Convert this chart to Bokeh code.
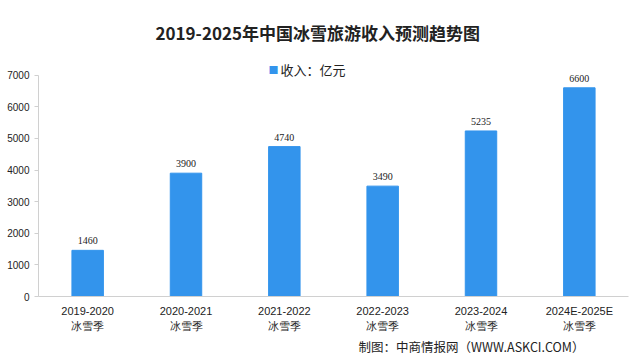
from bokeh.plotting import figure
from bokeh.models import ColumnDataSource, FactorRange, Label, Range1d, FixedTicker, Title
from bokeh.embed import file_html
from bokeh.resources import INLINE

seasons = ["2019-2020\n冰雪季", "2020-2021\n冰雪季", "2021-2022\n冰雪季",
           "2022-2023\n冰雪季", "2023-2024\n冰雪季", "2024E-2025E\n冰雪季"]
revenue = [1460, 3900, 4740, 3490, 5235, 6600]
value_labels = ["1460", "3900", "4740", "3490", "5235", "6600"]
y_ticks = [0, 1000, 2000, 3000, 4000, 5000, 6000, 7000]

FONT = "Noto Sans CJK SC"
NUMF = "Liberation Sans"
BAR = "#3394ec"
TXT = "#222222"

src = ColumnDataSource(dict(x=seasons, y=revenue, lab=value_labels))

p = figure(width=632, height=355, output_backend="svg", toolbar_location=None,
           x_range=FactorRange(*seasons, range_padding=0),
           y_range=Range1d(0, 7400),
           min_border_left=38, min_border_right=4, min_border_top=61, min_border_bottom=55)
p.outline_line_color = None
p.background_fill_color = "white"
p.border_fill_color = "white"

p.title.text = "2019-2025年中国冰雪旅游收入预测趋势图"
p.title.align = "left"
p.title.vertical_align = "bottom"
p.title.offset = 117
p.title.text_font = FONT
p.title.text_font_size = "17px"
p.title.text_font_style = "bold"
p.title.text_color = TXT
p.title.standoff = 35

p.vbar(x="x", top="y", width=0.32, source=src, color=BAR)
p.text(x="x", y="y", text="lab", source=src, text_align="center", text_baseline="bottom",
       y_offset=-6, text_font_size="10px", text_color=TXT, text_font=NUMF)

p.xgrid.visible = False
p.ygrid.visible = False

p.yaxis.ticker = FixedTicker(ticks=y_ticks)
p.yaxis.bounds = (0, 7000)
p.yaxis.axis_line_color = "#d0d0d0"
p.yaxis.major_tick_line_color = "#d0d0d0"
p.yaxis.major_tick_out = 4
p.yaxis.major_tick_in = 0
p.yaxis.minor_tick_line_color = None
p.yaxis.major_label_text_font = NUMF
p.yaxis.major_label_text_font_size = "10px"
p.yaxis.major_label_text_color = TXT
p.yaxis.major_label_standoff = 5

p.xaxis.axis_line_color = "#d0d0d0"
p.xaxis.major_tick_line_color = None
p.xaxis.minor_tick_line_color = None
p.xaxis.major_label_text_font = NUMF
p.xaxis.major_label_text_font_size = "11px"
p.xaxis.major_label_text_color = TXT
p.xaxis.major_label_standoff = 2
p.xaxis.major_label_text_line_height = 1.27

# legend
p.add_layout(Label(x=3, y=7000, y_offset=6, x_offset=-60, text="■",
                   text_align="center", text_baseline="middle", text_font=FONT,
                   text_font_size="10px", text_color=BAR))
p.add_layout(Label(x=3, y=7000, y_offset=6, x_offset=-53, text="收入：亿元",
                   text_align="left", text_baseline="middle", text_font=FONT,
                   text_font_size="13px", text_color=TXT))
# source
p.add_layout(Title(text="制图：中商情报网（WWW.ASKCI.COM）", align="right",
                   text_font=FONT, text_font_size="12.5px", text_font_style="normal",
                   text_color=TXT, offset=44, standoff=0), "below")

open("out.html", "w").write(file_html(p, INLINE))
